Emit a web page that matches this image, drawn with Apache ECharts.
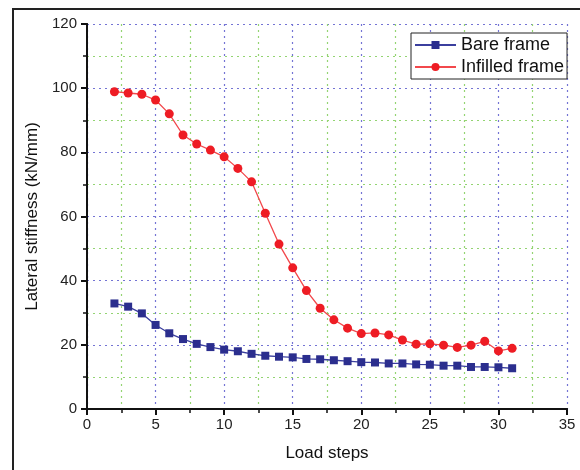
<!DOCTYPE html>
<html>
<head>
<meta charset="utf-8">
<script src="https://cdn.jsdelivr.net/npm/echarts@6/dist/echarts.min.js"></script>
<style>
  html, body { margin: 0; padding: 0; background: #fff; }
  #main { width: 580px; height: 470px; }
</style>
</head>
<body>
<div id="main"></div>
<script>
// load steps 2..31
var loadSteps = [2, 3, 4, 5, 6, 7, 8, 9, 10, 11, 12, 13, 14, 15, 16, 17, 18, 19, 20, 21, 22, 23, 24, 25, 26, 27, 28, 29, 30, 31]
var bareFrame = [32.9, 31.9, 29.8, 26.2, 23.6, 21.8, 20.3, 19.3, 18.5, 18.0, 17.2, 16.6, 16.3, 16.1, 15.6, 15.5, 15.2, 14.9, 14.6, 14.5, 14.2, 14.2, 13.9, 13.8, 13.5, 13.5, 13.1, 13.1, 13.0, 12.7]
var infilledFrame = [98.9, 98.5, 98.1, 96.3, 92.0, 85.4, 82.6, 80.7, 78.6, 75.0, 70.8, 61.0, 51.4, 44.0, 36.9, 31.4, 27.8, 25.2, 23.5, 23.7, 23.1, 21.5, 20.2, 20.3, 19.9, 19.2, 19.9, 21.1, 18.1, 18.9]
var xTicks = [0, 5, 10, 15, 20, 25, 30, 35]
var yTicks = [0, 20, 40, 60, 80, 100, 120]

var font = 'Liberation Sans, Arial, sans-serif'

function pairs (ys) {
  return loadSteps.map(function (x, i) { return [x, ys[i]] })
}

var chart = echarts.init(document.getElementById('main'))

var option = {
  animation: false,
  backgroundColor: '#fff',
  grid: {
    left: 87,
    right: 13,
    top: 24,
    bottom: 61
  },
  legend: {
    orient: 'vertical',
    left: 411,
    top: 33,
    padding: [3, 3, 3, 3],
    itemGap: 4,
    itemWidth: 41,
    itemHeight: 10,
    borderColor: '#222',
    borderWidth: 1,
    backgroundColor: '#fff',
    textStyle: { fontFamily: font, fontSize: 18, color: '#111', lineHeight: 18 },
    data: ['Bare frame', 'Infilled frame']
  },
  xAxis: [{
    type: 'value',
    min: xTicks[0],
    max: xTicks[xTicks.length - 1],
    interval: 5,
    name: 'Load steps',
    nameLocation: 'middle',
    nameGap: 36,
    nameTextStyle: { fontFamily: font, fontSize: 17, color: '#111' },
    axisLine: { onZero: false, lineStyle: { color: '#111', width: 2 } },
    axisTick: { length: 6, lineStyle: { color: '#111', width: 2 } },
    minorTick: { show: true, splitNumber: 2, length: 4, lineStyle: { color: '#111', width: 1.5 } },
    axisLabel: { fontFamily: font, fontSize: 15, color: '#222', margin: 8 },
    splitLine: { show: true, lineStyle: { color: '#7474d4', type: [2, 4], width: 1.2 } },
    minorSplitLine: { show: true, lineStyle: { color: '#94d472', type: [2, 4], width: 1.2 } }
  }, {
    type: 'value',
    position: 'top',
    min: 0,
    max: 35,
    axisLine: { show: true, lineStyle: { color: '#111', width: 2 } },
    axisTick: { show: false },
    axisLabel: { show: false },
    splitLine: { show: false }
  }],
  yAxis: [{
    type: 'value',
    min: yTicks[0],
    max: yTicks[yTicks.length - 1],
    interval: 20,
    name: 'Lateral stiffness (kN/mm)',
    nameLocation: 'middle',
    nameGap: 45,
    nameTextStyle: { fontFamily: font, fontSize: 17, color: '#111' },
    axisLine: { show: true, onZero: false, lineStyle: { color: '#111', width: 2 } },
    axisTick: { show: true, length: 6, lineStyle: { color: '#111', width: 2 } },
    minorTick: { show: true, splitNumber: 2, length: 4, lineStyle: { color: '#111', width: 1.5 } },
    axisLabel: { fontFamily: font, fontSize: 15, color: '#222', margin: 10 },
    splitLine: { show: true, lineStyle: { color: '#7474d4', type: [2, 4], width: 1.2 } },
    minorSplitLine: { show: true, lineStyle: { color: '#94d472', type: [2, 4], width: 1.2 } }
  }, {
    type: 'value',
    position: 'right',
    min: 0,
    max: 120,
    axisLine: { show: true, lineStyle: { color: '#111', width: 2 } },
    axisTick: { show: false },
    axisLabel: { show: false },
    splitLine: { show: false }
  }],
  graphic: [{
    type: 'polyline',
    shape: { points: [[13, 470], [13, 9], [580, 9]] },
    style: { stroke: '#222', lineWidth: 2, fill: null }
  }],
  series: [{
    name: 'Bare frame',
    type: 'line',
    data: pairs(bareFrame),
    symbol: 'rect',
    symbolSize: 8,
    itemStyle: { color: '#2b2e8e' },
    lineStyle: { color: '#3b3f9e', width: 1.3 },
    z: 3
  }, {
    name: 'Infilled frame',
    type: 'line',
    data: pairs(infilledFrame),
    symbol: 'circle',
    symbolSize: 9,
    itemStyle: { color: '#ee1c24' },
    lineStyle: { color: '#f2484c', width: 1.3 },
    z: 4
  }]
}

chart.setOption(option)
</script>
</body>
</html>
